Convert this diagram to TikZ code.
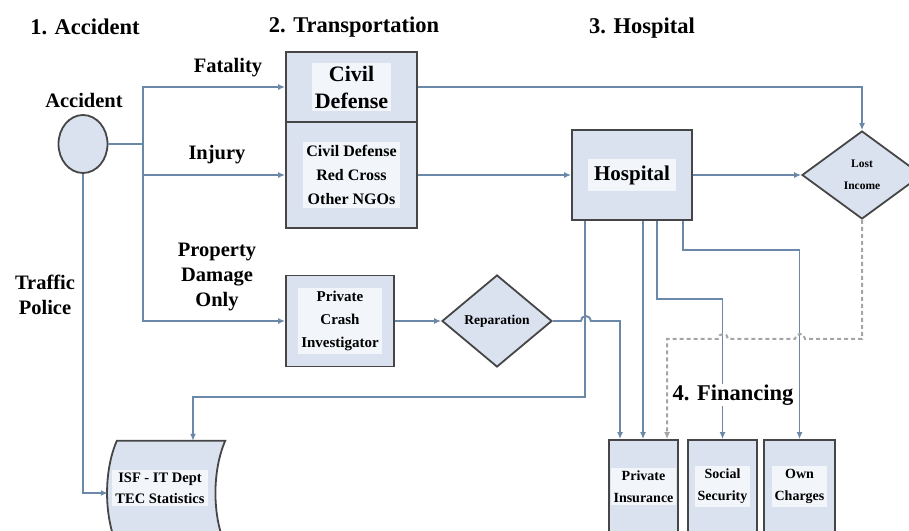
\documentclass[tikz,border=0pt]{standalone}
\usepackage{fontspec}
\setmainfont{Liberation Serif}
\usetikzlibrary{shapes.geometric,arrows.meta}
\definecolor{linkblue}{RGB}{108,136,168}
\definecolor{boxfill}{RGB}{218,225,239}
\definecolor{boxin}{RGB}{242,245,250}
\definecolor{boxline}{RGB}{70,70,70}
\definecolor{dashgray}{RGB}{165,165,165}
\newcommand{\fs}[2]{\bfseries\fontsize{#1}{#2}\selectfont}
\begin{document}
\begin{tikzpicture}[x=1pt, y=-1pt,
    link/.style={draw=linkblue, line width=1.9pt},
    arr/.style={link, -{Latex[length=7pt,width=6pt]}},
    dashlink/.style={draw=dashgray, line width=2pt, dash pattern=on 4pt off 3pt, -{Latex[length=7pt,width=6pt]}},
    box/.style={draw=boxline, line width=1.8pt, fill=boxfill, inner sep=0pt},
    boxtxt/.style={fill=boxin, align=center, inner sep=3pt},
    dia/.style={diamond, draw=boxline, line width=1.8pt, fill=boxfill, inner sep=0pt, align=center},
    hdr/.style={font=\fs{22.5}{27}},
    lbl/.style={font=\fs{20.5}{25}, align=center}]
  \useasboundingbox (0,0) rectangle (909,530);

  % headers
  \node[hdr] (h1) at (85,27) {1. Accident};
  \node[hdr] (h2) at (354,27) {2. Transportation};
  \node[hdr] (h3) at (642,28) {3. Hospital};

  % 1. accident
  \node[ellipse, draw=boxline, line width=1.8pt, fill=boxfill, minimum width=49, minimum height=58] (acc) at (83,144) {};
  \node[lbl] (acclbl) at (84,100) {Accident};
  \coordinate (br) at (143,144);
  \node[lbl] (fat) at (228,68) {Fatality};
  \node[lbl] (inj) at (217,155) {Injury};
  \node[lbl] (pdo) at (217,277) {Property\\Damage\\Only};
  \node[lbl] (tp) at (45,295) {Traffic\\Police};

  % 2. transportation
  \node[box, minimum width=131, minimum height=70] (cd) at (351.5,87) {};
  \node[boxtxt, font=\fs{22}{27}] (cdt) at (cd) {Civil\\Defense};
  \node[box, minimum width=131, minimum height=106] (ngo) at (351.5,175) {};
  \node[boxtxt, font=\fs{16}{24}] (ngot) at (ngo) {Civil Defense\\Red Cross\\Other NGOs};
  \node[box, minimum width=108, minimum height=91] (pci) at (340,321) {};
  \node[boxtxt, font=\fs{15}{23}] (pcit) at (pci) {Private\\Crash\\Investigator};
  \node[dia, minimum width=110, minimum height=92, font=\fs{13.5}{16}] (rep) at (497,321) {Reparation};

  % 3. hospital
  \node[box, minimum width=120, minimum height=90] (hosp) at (632,175) {};
  \node[boxtxt, inner sep=6pt, font=\fs{21}{25}] (hospt) at (hosp) {Hospital};
  \node[dia, minimum width=120, minimum height=88, font=\fs{11.5}{22}] (lost) at (862,175) {Lost\\Income};

  % 4. financing
  \node[box, minimum width=69, minimum height=95] (pi) at (643.5,487.5) {};
  \node[boxtxt, font=\fs{14}{22}] (pit) at ([yshift=1pt]pi) {Private\\Insurance};
  \node[box, minimum width=69, minimum height=95] (ss) at (722.5,487.5) {};
  \node[boxtxt, font=\fs{14}{22}] (sst) at ([yshift=1pt]ss) {Social\\Security};
  \node[box, minimum width=71, minimum height=95] (oc) at (799.5,487.5) {};
  \node[boxtxt, font=\fs{14}{22}] (oct) at ([yshift=1pt]oc) {Own\\Charges};

  % statistics
  \node[minimum width=108, minimum height=104, inner sep=0pt] (isf) at (171,493) {};
  \draw[draw=boxline, line width=1.8pt, fill=boxfill]
    (isf.north west) -- (isf.north east) .. controls +(-13,30) and +(-13,-30) .. (isf.south east)
    -- (isf.south west) .. controls +(-13,-30) and +(-13,30) .. (isf.north west) -- cycle;
  \node[boxtxt, font=\fs{14.5}{21}] (isft) at (160,488) {ISF - IT Dept\\TEC Statistics};

  % connectors
  \draw[link] (acc.east) -- (br);
  \draw[arr] (br) |- (cd.west);
  \draw[arr] (br) |- (ngo.west);
  \draw[arr] (br) |- (pci.west);
  \draw[arr] (acc.south) |- ([xshift=-9pt]isf.west);
  \draw[arr] (cd.east) -| (lost.north);
  \draw[arr] (ngo.east) -- (hosp.west);
  \draw[arr] (hosp.east) -- (lost.west);
  \draw[arr] (pci.east) -- (rep.west);
  \draw[arr] (rep.east) -- ++(28,0) arc[start angle=180, end angle=0, radius=5pt] -| ([xshift=-23.5pt]pi.north);
  \draw[arr] ([xshift=-47pt]hosp.south) -- ++(0,176) -| ([xshift=22pt]isf.north);
  \draw[arr] ([xshift=11pt]hosp.south) -- ([xshift=11pt]hosp.south |- pi.north);
  \draw[arr] ([xshift=25pt]hosp.south) -- ++(0,78) -| (ss.north);
  \draw[arr] ([xshift=51pt]hosp.south) -- ++(0,29) -| (oc.north);
  \draw[dashlink] (lost.south) -- ++(0,119) -- ++(-57,0) arc[start angle=0, end angle=180, radius=5pt]
    -- ++(-67,0) arc[start angle=0, end angle=180, radius=5pt] -| ([xshift=23.5pt]pi.north);

  \node[hdr, fill=white, inner sep=1pt] (h4) at (733,395) {4. Financing};
\end{tikzpicture}
\end{document}
